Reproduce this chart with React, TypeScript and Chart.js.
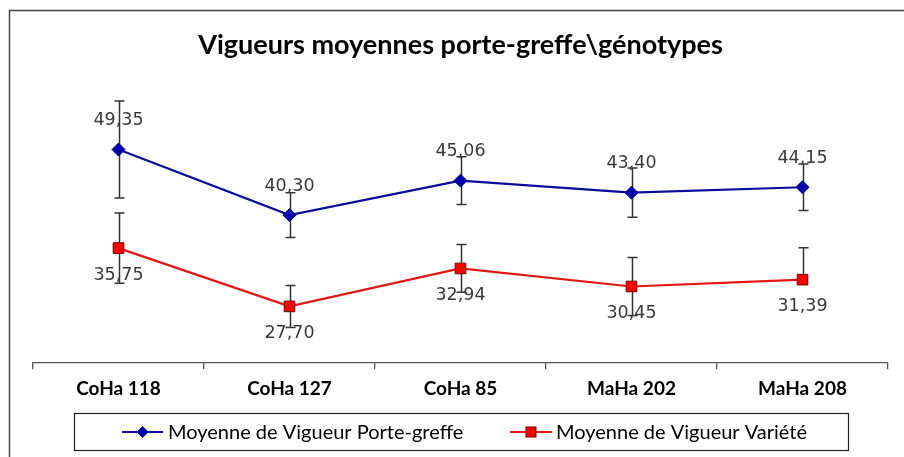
import React, { useEffect, useRef } from "react";
import { Chart, registerables } from "chart.js";

Chart.register(...registerables);

const categories = ["CoHa 118", "CoHa 127", "CoHa 85", "MaHa 202", "MaHa 208"];
const porteGreffe = [49.35, 40.3, 45.06, 43.4, 44.15];
const variete = [35.75, 27.7, 32.94, 30.45, 31.39];
const porteGreffeErrUp = [6.7, 3.1, 3.3, 3.4, 3.2];
const porteGreffeErrDown = [6.7, 3.1, 3.3, 3.4, 3.2];
const varieteErrUp = [4.85, 2.9, 3.3, 4.0, 4.4];
const varieteErrDown = [4.85, 2.9, 3.3, 4.0, 0];
const seriesNames = ["Moyenne de Vigueur Porte-greffe", "Moyenne de Vigueur Variété"];
const titleText = "Vigueurs moyennes porte-greffe\\génotypes";

const BLUE = "#0B0B9C";
const RED = "#E01515";

const fmt = (v: number) => v.toFixed(2).replace(".", ",");

const bgPlugin = {
  id: "bg",
  beforeDraw(chart: any) {
    const { ctx, width, height } = chart;
    ctx.save();
    ctx.fillStyle = "#fff";
    ctx.fillRect(0, 0, width, height);
    ctx.restore();
  },
};

const errorBarPlugin = {
  id: "errbars",
  beforeDatasetsDraw(chart: any) {
    const { ctx } = chart;
    const y = chart.scales.y;
    const errs = [
      [porteGreffeErrUp, porteGreffeErrDown],
      [varieteErrUp, varieteErrDown],
    ];
    ctx.save();
    ctx.strokeStyle = "#333";
    ctx.lineWidth = 1.5;
    chart.data.datasets.forEach((ds: any, di: number) => {
      const meta = chart.getDatasetMeta(di);
      meta.data.forEach((pt: any, i: number) => {
        const v = ds.data[i];
        const yt = y.getPixelForValue(v + errs[di][0][i]);
        const yb = y.getPixelForValue(v - errs[di][1][i]);
        const x = Math.round(pt.x) + 0.5;
        ctx.beginPath();
        ctx.moveTo(x, yt);
        ctx.lineTo(x, yb);
        ctx.moveTo(x - 5, yt);
        ctx.lineTo(x + 5, yt);
        if (errs[di][1][i] > 0) {
          ctx.moveTo(x - 5, yb);
          ctx.lineTo(x + 5, yb);
        }
        ctx.stroke();
      });
    });
    ctx.restore();
  },
};

const labelPlugin = {
  id: "vlabels",
  afterDatasetsDraw(chart: any) {
    const { ctx } = chart;
    ctx.save();
    ctx.font = "17.5px 'DejaVu Sans'";
    ctx.fillStyle = "#3a3a3a";
    ctx.textAlign = "center";
    ctx.textBaseline = "middle";
    chart.data.datasets.forEach((ds: any, di: number) => {
      const meta = chart.getDatasetMeta(di);
      meta.data.forEach((pt: any, i: number) => {
        const dy = di === 0 ? -29 : 27;
        ctx.fillText(fmt(ds.data[i]), pt.x, pt.y + dy);
      });
    });
    ctx.restore();
  },
};

const frameLegendPlugin = {
  id: "frameLegend",
  afterDraw(chart: any) {
    const { ctx } = chart;
    ctx.save();
    // outer frame
    ctx.strokeStyle = "#444";
    ctx.lineWidth = 1.5;
    ctx.strokeRect(9.5, 10.5, 910, 470);
    // legend box
    ctx.strokeStyle = "#222";
    ctx.lineWidth = 1.2;
    ctx.strokeRect(74.5, 413.5, 774, 37);
    const cy = 432;
    const items = [
      { x0: 122, x1: 163, color: BLUE, shape: "diamond", tx: 168 },
      { x0: 510, x1: 552, color: RED, shape: "square", tx: 556 },
    ];
    ctx.font = "20px Lato";
    ctx.textBaseline = "middle";
    ctx.textAlign = "left";
    items.forEach((it, i) => {
      ctx.strokeStyle = it.color;
      ctx.lineWidth = 2.2;
      ctx.beginPath();
      ctx.moveTo(it.x0, cy);
      ctx.lineTo(it.x1, cy);
      ctx.stroke();
      const mx = (it.x0 + it.x1) / 2;
      if (it.shape === "diamond") {
        ctx.fillStyle = "#0000B0";
        ctx.beginPath();
        ctx.moveTo(mx, cy - 6);
        ctx.lineTo(mx + 6, cy);
        ctx.lineTo(mx, cy + 6);
        ctx.lineTo(mx - 6, cy);
        ctx.closePath();
        ctx.fill();
      } else {
        ctx.fillStyle = "#FF0000";
        ctx.strokeStyle = "#700000";
        ctx.lineWidth = 1;
        ctx.fillRect(mx - 5, cy - 5, 10, 10);
        ctx.strokeRect(mx - 5, cy - 5, 10, 10);
      }
      ctx.fillStyle = "#000";
      ctx.fillText(seriesNames[i], it.tx, cy + 1);
    });
    ctx.restore();
  },
};

export default function App() {
  const ref = useRef<HTMLCanvasElement | null>(null);
  useEffect(() => {
    document.body.style.margin = "0";
    const canvas = ref.current!;
    const chart = new Chart(canvas, {
      type: "line",
      data: {
        labels: categories,
        datasets: [
          {
            label: seriesNames[0],
            data: porteGreffe,
            borderColor: BLUE,
            backgroundColor: "#0000B0",
            borderWidth: 2.2,
            pointStyle: "rectRot",
            pointRadius: 6.5,
            pointBackgroundColor: "#0000B0",
            pointBorderColor: "#00007a",
            pointBorderWidth: 1,
            tension: 0,
          },
          {
            label: seriesNames[1],
            data: variete,
            borderColor: RED,
            backgroundColor: "#FF0000",
            borderWidth: 2.2,
            pointStyle: "rect",
            pointRadius: 7.5,
            pointBackgroundColor: "#FF0000",
            pointBorderColor: "#700000",
            pointBorderWidth: 1,
            tension: 0,
          },
        ],
      },
      options: {
        responsive: false,
        animation: false,
        events: [],
        layout: { padding: { left: 33, right: 16, top: 0, bottom: 49 } },
        plugins: {
          legend: { display: false },
          tooltip: { enabled: false },
          title: {
            display: true,
            text: titleText,
            color: "#000",
            font: { family: "Lato", size: 27, weight: "bold" },
            padding: { top: 29, bottom: 11 },
          },
        },
        scales: {
          x: {
            offset: true,
            grid: {
              offset: true,
              drawOnChartArea: false,
              drawTicks: true,
              tickLength: 7,
              color: "#555",
              lineWidth: 1.3,
            },
            border: { display: true, color: "#555", width: 1.3 },
            ticks: {
              color: "#000",
              font: { family: "Lato", size: 19, weight: "bold" },
              padding: 8,
            },
          },
          y: { display: false, min: 20, max: 60 },
        },
      },
      plugins: [bgPlugin, errorBarPlugin, labelPlugin, frameLegendPlugin],
    });
    return () => chart.destroy();
  }, []);
  return (
    <div style={{ width: 904, height: 457 }}>
      <canvas ref={ref} width={904} height={457} style={{ display: "block" }} />
    </div>
  );
}
